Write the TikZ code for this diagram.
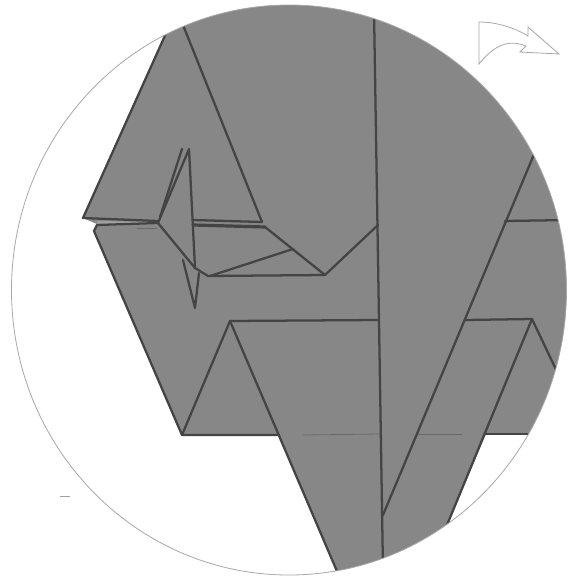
\documentclass[tikz,border=0pt]{standalone}
\definecolor{paper}{HTML}{FFFFFF}
\definecolor{foldgray}{HTML}{878787}
\definecolor{foldline}{HTML}{444444}
\definecolor{thinline}{HTML}{6A6A6A}
\definecolor{rimline}{HTML}{A8A8A8}
\definecolor{bandgray}{HTML}{A0A0A0}
\tikzset{
  fold/.style={draw=foldline,line width=1.7pt,line cap=round,line join=round},
  thinfold/.style={draw=thinline,line width=.6pt},
  rim/.style={draw=rimline,line width=.6pt}
}
\begin{document}
\begin{tikzpicture}[x=.75pt,y=-.75pt]
\useasboundingbox (0,0) rectangle (582,578);
\fill[paper] (0,0) rectangle (582,578);
\begin{scope}
  \clip (289,290) ellipse [x radius=277.5,y radius=285];
  \fill[foldgray] (172,20) -- (172,-10) -- (600,-10) -- (600,434) -- (486,434) -- (440,542) -- (420,600) -- (345,590) -- (279,435) -- (182,435) -- (94,231) -- (97,224) -- (83,218) -- cycle;
  \fill[bandgray] (97,221) -- (158,222) -- (158,224) -- (97,226) -- cycle;
  % top flap
  \draw[fold] (172,20) -- (83,218) -- (158,221);
  \draw[fold] (181,20) -- (262,222);
  \draw[fold] (193,220) -- (262,222);
  \draw[fold,line width=2.4pt] (193,225) -- (265,227);
  \draw[fold] (265,227) -- (325,275) -- (378,225);
  \draw[fold] (97,225) -- (158,223);
  % central folds
  \draw[fold] (158,223) -- (189,149) -- (195,268);
  \draw[fold] (160,217) -- (182,149);
  \draw[fold] (158,223) -- (195,268) -- (208,276) -- (325,275);
  \draw[fold] (210,276) -- (293,249);
  \draw[fold] (183,260) -- (195,308) -- (199,273);
  % lower left
  \draw[fold] (97,225) -- (94,231) -- (182,435) -- (279,435);
  \draw[fold] (182,435) -- (230,321) -- (345,590);
  \draw[fold] (230,321) -- (378,320);
  % right side folds
  \draw[fold] (374,10) -- (383,570);
  \draw[fold] (540,140) -- (383,515);
  \draw[fold] (505,221) -- (570,220);
  \draw[fold] (465,320) -- (532,319) -- (440,542);
  \draw[fold] (532,319) -- (560,378);
  \draw[fold] (486,434) -- (535,434);
  \draw[thinfold] (303,435) -- (380,434);
  \draw[thinfold] (418,434) -- (462,434);
  \draw[thinfold] (137,228) -- (157,228);
\end{scope}
\draw[rim] (289,290) ellipse [x radius=277.5,y radius=285];
\draw[draw=rimline,line width=.6pt,line join=miter] (479,22) .. controls (497,22) and (515,28) .. (528,36) -- (528,27) -- (559,54) -- (520,52) -- (526,46) .. controls (506,38) and (492,48) .. (479,64) -- cycle;
\draw[draw=bandgray,line width=.6pt] (60,496) -- (70,496);
\end{tikzpicture}
\end{document}
